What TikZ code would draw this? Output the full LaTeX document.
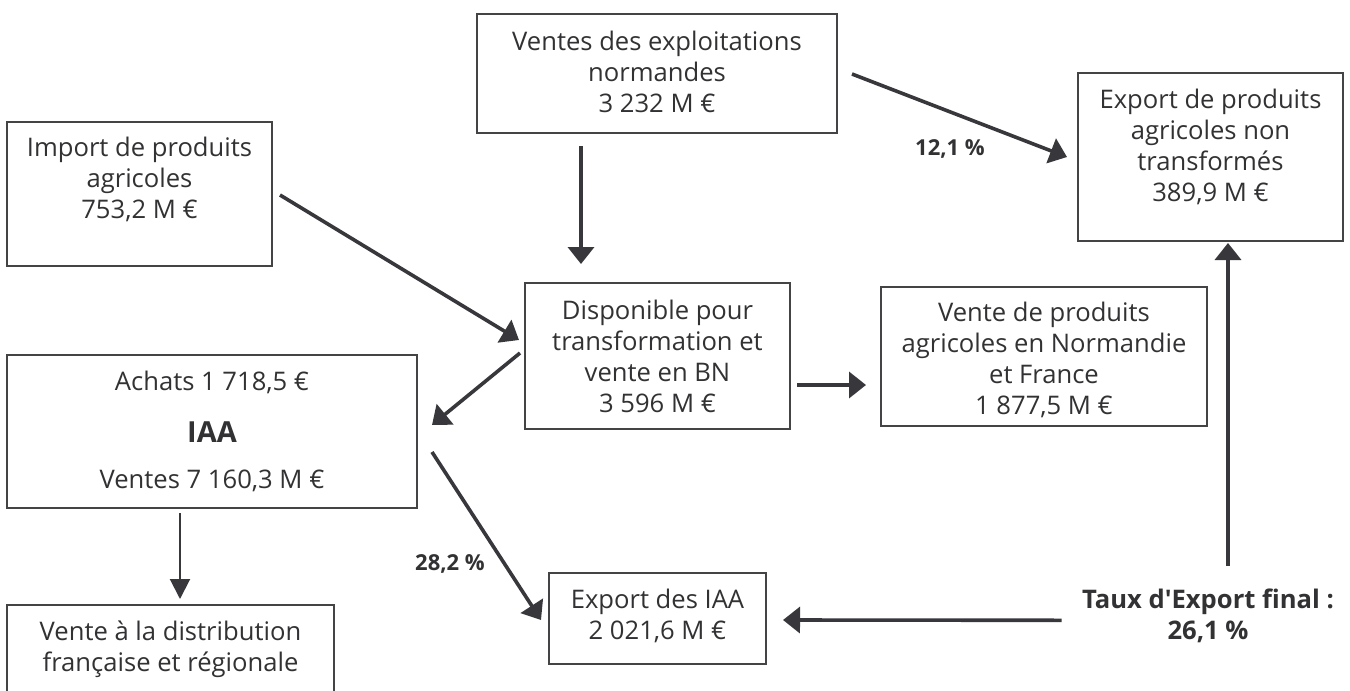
\documentclass[tikz,border=0pt]{standalone}
\usepackage{fontspec}
\setmainfont{Open Sans}
\usetikzlibrary{arrows.meta,calc}
\definecolor{ink}{RGB}{55,55,60}
\definecolor{frame}{RGB}{68,68,70}
\definecolor{txtc}{RGB}{50,50,52}
\newcommand{\mlines}[1]{\begin{tabular}[t]{@{}c@{}}#1\end{tabular}}
\begin{document}
\begin{tikzpicture}[x=0.5pt,y=-0.5pt,
  box/.style={draw=frame,line width=1pt,inner sep=0pt},
  txt/.style={anchor=base,inner sep=0pt,text=txtc,font=\fontsize{12.8}{15.5}\selectfont},
  txtb/.style={anchor=base,inner sep=0pt,text=txtc,font=\bfseries\fontsize{12.8}{15.5}\selectfont},
  lbl/.style={anchor=base,inner sep=0pt,text=txtc,font=\bfseries\fontsize{11}{13}\selectfont},
  arr/.style={draw=ink,line width=1.8pt,-{Triangle[length=8.5pt,width=13pt]}},
  thinarr/.style={draw=ink,line width=1pt,-{Triangle[length=10pt,width=10pt]}}]
\useasboundingbox (0,0) rectangle (1350,691);
\clip (0,0) rectangle (1350,691);
\fill[white] (0,0) rectangle (1350,691);
% boxes
\node[box,minimum width=180pt,minimum height=59.5pt] (ventes) at (657,73.5) {};
\node[box,minimum width=132.5pt,minimum height=72pt] (import) at (139.5,194) {};
\node[box,minimum width=132.5pt,minimum height=84pt] (expag) at (1210.5,157) {};
\node[box,minimum width=132.5pt,minimum height=73pt] (dispo) at (657.5,356) {};
\node[box,minimum width=163pt,minimum height=69.5pt] (vente) at (1044,356.5) {};
\node[box,minimum width=205pt,minimum height=76.5pt] (iaa) at (212,431.5) {};
\node[box,minimum width=163.5pt,minimum height=57.5pt] (distrib) at (170.5,662.5) {};
\node[box,minimum width=108.5pt,minimum height=45.5pt] (expiaa) at (657.5,618.5) {};
% texts
\node[txt] (ventesT) at (657,50) {\mlines{Ventes des exploitations\\normandes\\3 232 M €}};
\node[txt] (importT) at (139.5,156) {\mlines{Import de produits\\agricoles\\753,2 M €}};
\node[txt] (expagT) at (1210.5,108) {\mlines{Export de produits\\agricoles non\\transformés\\389,9 M €}};
\node[txt] (dispoT) at (657.5,319) {\mlines{Disponible pour\\transformation et\\vente en BN\\3 596 M €}};
\node[txt] (venteT) at (1044,321) {\mlines{Vente de produits\\agricoles en Normandie\\et France\\1 877,5 M €}};
\node[txt] (iaaT) at (212,390) {\mlines{Achats 1 718,5 €\\[10.5pt]{\bfseries\fontsize{14.5}{15.5}\selectfont IAA}\\[7.5pt]Ventes 7 160,3 M €}};
\node[txt] (distribT) at (170.5,640) {\mlines{Vente à la distribution\\française et régionale}};
\node[txt] (expiaaT) at (657.5,608) {\mlines{Export des IAA\\2 021,6 M €}};
\node[txtb] (taux) at (1208,608) {\mlines{Taux d\textquotesingle Export final :\\26,1 \%}};
\node[lbl] (p121) at (950,155) {12,1 \%};
\node[lbl] (p282) at (450,570) {28,2 \%};
% connectors
\draw[arr] ($(ventes.south)+(-76,12)$) -- ($(dispo.north)+(-76.5,-18)$);
\draw[arr] ($(ventes.east)+(14,0.5)$) -- ($(expag.west)+(-10,0)$);
\draw[arr] ($(import.east)+(7,1)$) -- ($(dispo.west)+(-5,-16)$);
\draw[arr] ($(dispo.west)+(-4,-3)$) -- ($(iaa.east)+(14,-6.5)$);
\draw[arr] ($(dispo.east)+(6,29)$) -- ($(vente.west)+(-14,28.5)$);
\draw[arr] ($(iaa.east)+(14,20.5)$) -- ($(expiaa.west)+(-7,1.5)$);
\draw[thinarr] ($(iaa.south)+(-32,4)$) -- ($(distrib.north)+(9.5,-5)$);
\draw[arr] ($(taux.west)+(-20,3)$) -- ($(expiaa.east)+(16,1.5)$);
\draw[arr] ($(taux.north)+(20,-20)$) -- ($(expag.south)+(17.5,1)$);
\end{tikzpicture}
\end{document}
